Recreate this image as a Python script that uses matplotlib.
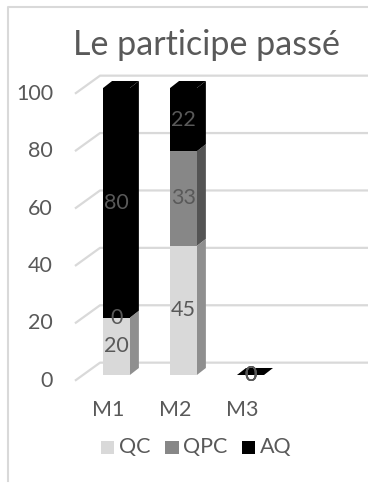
import matplotlib.pyplot as plt
from matplotlib.patches import Polygon, Rectangle
from matplotlib.lines import Line2D

plt.rcParams['font.family'] = ['Lato', 'DejaVu Sans']

categories = ["M1", "M2", "M3"]
series = ["QC", "QPC", "AQ"]
qc = [20, 45, 0]
qpc = [0, 33, 0]
aq = [80, 22, 0]
yticks = [0, 20, 40, 60, 80, 100]
title = "Le participe passé"

front_colors = ["#d9d9d9", "#878787", "#000000"]
side_colors = ["#8f8f8f", "#545454", "#000000"]
top_colors = ["#e6e6e6", "#a0a0a0", "#000000"]
TEXT = "#595959"
GRID = "#d9d9d9"

W, H = 368, 483
fig = plt.figure(figsize=(W / 100, H / 100), dpi=100)
ax = fig.add_axes([0, 0, 1, 1])
ax.set_xlim(-1.739, 3.754)
ax.set_ylim(-37.63, 130.66)
ax.axis('off')

# fake 3d: bar half width, bar depth, wall depth
half = 0.2
ddx, ddy = 0.134, 2.44
gx_front, gx_back, gx_end = -0.62, -0.246, 3.9
gy_front, gy_back = -2.0, 4.3

for v in yticks:
    ax.plot([gx_front, gx_back, gx_end], [v + gy_front, v + gy_back, v + gy_back],
            color=GRID, lw=1.6, zorder=1, solid_capstyle='butt')
    ax.text(-0.948, v + gy_front, str(v), ha='right', va='center',
            color=TEXT, fontsize=15.5)

data = [qc, qpc, aq]
for i, cat in enumerate(categories):
    bottom = 0
    x0, x1 = i - half, i + half
    for s, vals in enumerate(data):
        top = bottom + vals[i]
        side = Polygon([(x1, bottom), (x1 + ddx, bottom + ddy),
                        (x1 + ddx, top + ddy), (x1, top)],
                       closed=True, fc=side_colors[s], lw=0, zorder=2)
        front = Rectangle((x0, bottom), 2 * half, vals[i],
                          fc=front_colors[s], lw=0, zorder=2)
        cap = Polygon([(x0, top), (x1, top), (x1 + ddx, top + ddy),
                       (x0 + ddx, top + ddy)],
                      closed=True, fc=top_colors[s], lw=0, zorder=2)
        ax.add_patch(side)
        ax.add_patch(front)
        ax.add_patch(cap)
        bottom = top
    ax.text(i - 0.127, -12.2, cat, ha='center', va='center',
            color=TEXT, fontsize=15.5)

for i in range(len(categories)):
    bottom = 0
    for s, vals in enumerate(data):
        ax.text(i, bottom + vals[i] / 2, str(vals[i]), ha='center', va='center',
                color=TEXT, fontsize=15.5, zorder=5)
        bottom += vals[i]

fig.text(206 / W, 1 - 55 / H, title, ha='center', va='baseline',
         color=TEXT, fontsize=24.5)

# legend
sq = 13.6
for lx, tx, name, c in zip([100.7, 165.0, 241.7], [119, 183, 260],
                           series, front_colors):
    fig.add_artist(Rectangle((lx / W, 1 - (440.7 + sq) / H), sq / W, sq / H,
                             transform=fig.transFigure, fc=c, lw=0))
    fig.text(tx / W, 1 - 447.5 / H, name, ha='left', va='center',
             color=TEXT, fontsize=15.5)

# chart area border
fig.add_artist(Line2D([7.5 / W, 7.5 / W, 1], [1 - 481 / H, 1 - 6.5 / H, 1 - 6.5 / H],
                      transform=fig.transFigure, color=GRID, lw=1.5))

fig.savefig("out.png", dpi=100)
